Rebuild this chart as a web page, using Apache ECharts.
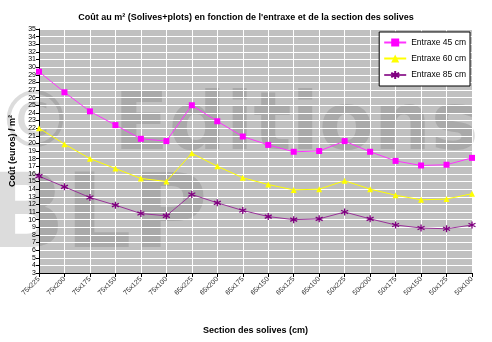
<!DOCTYPE html>
<html>
<head>
<meta charset="utf-8">
<script src="https://cdn.jsdelivr.net/npm/echarts@6/dist/echarts.min.js"></script>
<style>html,body{margin:0;padding:0;background:#fff;}#c{width:492px;height:342px;}</style>
</head>
<body>
<div id="c"></div>
<script>
var categories = ['75x225','75x200','75x175','75x150','75x125','75x100','65x225','65x200','65x175','65x150','65x125','65x100','50x225','50x200','50x175','50x150','50x125','50x100'];
var entraxe45 = [29.4,26.7,24.2,22.4,20.6,20.3,25.0,22.9,20.9,19.8,18.9,19.0,20.3,18.9,17.7,17.1,17.2,18.1];
var entraxe60 = [22.0,19.9,18.0,16.7,15.4,15.0,18.7,17.0,15.5,14.6,13.9,14.0,15.1,14.0,13.2,12.6,12.7,13.4];
var entraxe85 = [15.7,14.3,12.9,11.9,10.8,10.5,13.3,12.2,11.2,10.4,10.0,10.1,11.0,10.1,9.3,8.9,8.8,9.3];
var seriesNames = ['Entraxe 45 cm','Entraxe 60 cm','Entraxe 85 cm'];
var yMin = 3, yMax = 35, yStep = 1;

var FONT = 'Liberation Sans, Arial, sans-serif';
var chart = echarts.init(document.getElementById('c'), null, {renderer:'canvas'});
var star = 'path://M5,0L5,10M0.7,2.5L9.3,7.5M0.7,7.5L9.3,2.5';
var wm = 'rgba(80,80,80,0.2)';
chart.setOption({
  animation:false,
  backgroundColor:'#ffffff',
  textStyle:{fontFamily:FONT},
  title:{
    text:'Coût au m² (Solives+plots) en fonction de l\'entraxe et de la section des solives',
    left:'center', top:8,
    textStyle:{fontSize:9, fontWeight:'bold', color:'#000', fontFamily:FONT}
  },
  grid:{left:35, right:20, top:29, bottom:69, show:true, backgroundColor:'#c0c0c0', borderWidth:0, z:0},
  graphic:[
    {type:'text', z:1, left:-4, top:88, style:{text:'©', font:'normal 78px DejaVu Sans', fill:wm}},
    {type:'text', z:1, left:114, top:88, style:{text:'Editions', font:'bold 80px DejaVu Sans', fill:wm}},
    {type:'text', z:1, left:-14, top:168, style:{text:'BLP', font:'bold 104px DejaVu Sans', fill:wm}}
  ],
  legend:{
    data:seriesNames, orient:'vertical', right:22, top:32,
    backgroundColor:'#ffffff', borderColor:'#000', borderWidth:1, borderRadius:0,
    padding:[6,4,6,4], itemGap:7, itemWidth:22, itemHeight:10, z:10,
    textStyle:{fontSize:8.5, color:'#000', fontFamily:FONT}
  },
  xAxis:{
    type:'category', data:categories, boundaryGap:false, z:2,
    name:'Section des solives (cm)', nameLocation:'middle', nameGap:53,
    nameTextStyle:{fontSize:9, fontWeight:'bold', color:'#000', fontFamily:FONT},
    axisLine:{lineStyle:{color:'#000', width:1}},
    axisTick:{length:4, lineStyle:{color:'#000'}},
    axisLabel:{rotate:45, fontSize:7, color:'#333', margin:5, fontFamily:FONT},
    splitLine:{show:true, lineStyle:{color:'#ffffff', width:1}}
  },
  yAxis:{
    type:'value', min:yMin, max:yMax, interval:yStep, z:2,
    name:'Coût (euros) / m²', nameLocation:'middle', nameGap:22, nameRotate:90,
    nameTextStyle:{fontSize:9, fontWeight:'bold', color:'#000', fontFamily:FONT},
    axisLine:{show:true, lineStyle:{color:'#000', width:1}},
    axisTick:{show:true, length:3, lineStyle:{color:'#000'}},
    axisLabel:{fontSize:7, color:'#000', margin:3, fontFamily:FONT},
    splitLine:{show:true, lineStyle:{color:'#ffffff', width:1}}
  },
  series:[
    {name:seriesNames[0], type:'line', data:entraxe45, z:3, symbol:'rect', symbolSize:6,
     itemStyle:{color:'#ff00ff'}, lineStyle:{color:'#ff33ff', width:1}},
    {name:seriesNames[1], type:'line', data:entraxe60, z:3, symbol:'triangle', symbolSize:6,
     itemStyle:{color:'#ffff00'}, lineStyle:{color:'#ffff00', width:1}},
    {name:seriesNames[2], type:'line', data:entraxe85, z:3, symbol:star, symbolSize:7,
     itemStyle:{color:'#800080', borderColor:'#800080', borderWidth:1.3}, lineStyle:{color:'#993399', width:1}}
  ]
});
</script>
</body>
</html>
